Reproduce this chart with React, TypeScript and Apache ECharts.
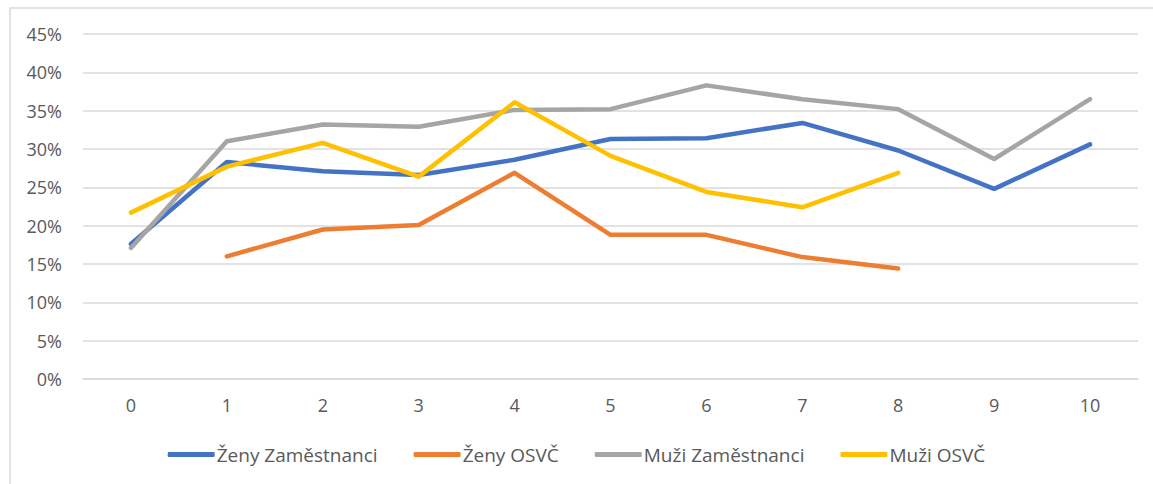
import React, { useEffect, useRef } from "react";
import * as echarts from "echarts";

const categories = ["0", "1", "2", "3", "4", "5", "6", "7", "8", "9", "10"];
const zenyZamestnanci = [17.6, 28.3, 27.1, 26.6, 28.6, 31.3, 31.4, 33.4, 29.8, 24.8, 30.6];
const zenyOsvc = [null, 16.0, 19.5, 20.1, 26.9, 18.8, 18.8, 15.9, 14.4, null, null];
const muziZamestnanci = [17.1, 31.0, 33.2, 32.9, 35.1, 35.2, 38.3, 36.5, 35.2, 28.7, 36.5];
const muziOsvc = [21.7, 27.7, 30.8, 26.4, 36.1, 29.1, 24.4, 22.4, 26.9, null, null];
const seriesNames = ["Ženy Zaměstnanci", "Ženy OSVČ", "Muži Zaměstnanci", "Muži OSVČ"];
const seriesColors = ["#4472C4", "#ED7D31", "#A5A5A5", "#FFC000"];

const FONT = "'Open Sans', sans-serif";

export default function App() {
  const ref = useRef<HTMLDivElement>(null);
  useEffect(() => {
    document.body.style.margin = "0";
    const chart = echarts.init(ref.current!, null, { renderer: "svg" });
    const data = [zenyZamestnanci, zenyOsvc, muziZamestnanci, muziOsvc];
    chart.setOption({
      animation: false,
      textStyle: { fontFamily: FONT },
      graphic: [
        {
          type: "rect",
          shape: { x: 10, y: 8, width: 3000, height: 3000 },
          style: { fill: "none", stroke: "#D9D9D9", lineWidth: 1.5 },
          silent: true,
        },
      ],
      grid: { left: 83, right: 15, top: 34, bottom: 105, containLabel: false },
      legend: {
        bottom: 15,
        left: "center",
        itemWidth: 47,
        itemHeight: 5,
        itemGap: 36,
        icon: "roundRect",
        textStyle: { fontFamily: FONT, fontSize: 19, color: "#595959", padding: [0, 0, 0, -3] },
        data: seriesNames,
      },
      xAxis: {
        type: "category",
        data: categories,
        boundaryGap: true,
        axisLine: { show: true, lineStyle: { color: "#D9D9D9", width: 1.5 } },
        axisTick: { show: false },
        axisLabel: { fontFamily: FONT, fontSize: 18, color: "#595959", margin: 17 },
      },
      yAxis: {
        type: "value",
        min: 0,
        max: 45,
        interval: 5,
        axisLine: { show: false },
        axisTick: { show: false },
        splitLine: { lineStyle: { color: "#D9D9D9", width: 1.5 } },
        axisLabel: {
          fontFamily: FONT,
          fontSize: 18,
          color: "#595959",
          margin: 21,
          formatter: (v: number) => v + "%",
        },
      },
      series: seriesNames.map((name, i) => ({
        name,
        type: "line",
        data: data[i],
        symbol: "none",
        connectNulls: false,
        color: seriesColors[i],
        lineStyle: { width: 4.5, color: seriesColors[i], cap: "round", join: "round" },
      })),
    });
    return () => chart.dispose();
  }, []);
  return <div ref={ref} style={{ width: 1153, height: 484 }} />;
}
